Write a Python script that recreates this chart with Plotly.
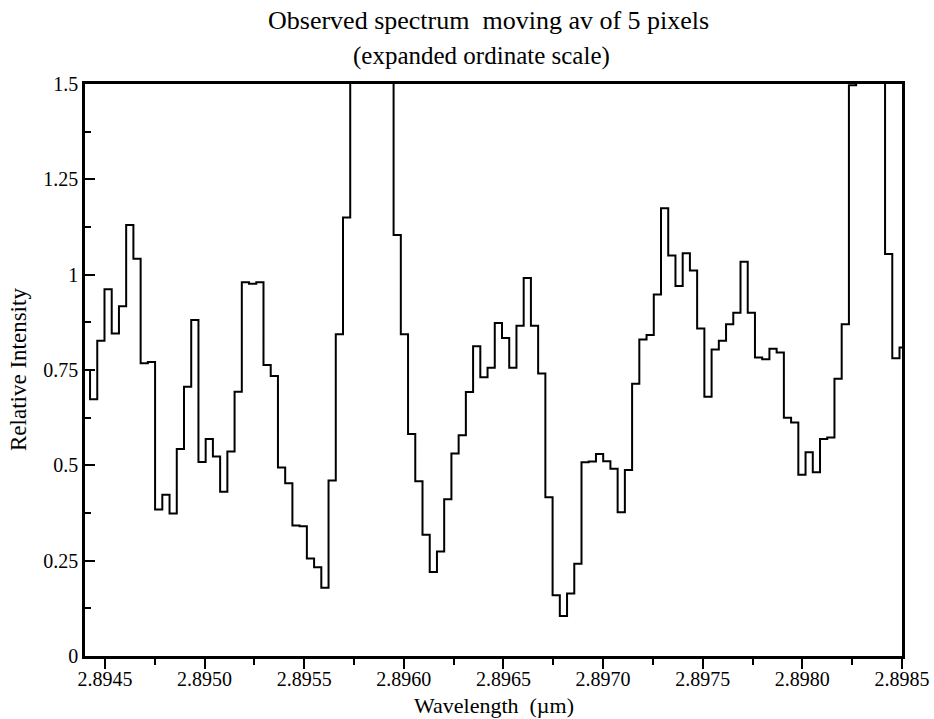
import plotly.graph_objects as go

# Spectrum: relative intensity per detector pixel (5-pixel moving average)
# values above 1.5 are off the expanded ordinate scale (clipped in the plot)
intensity = [
    0.750, 0.673, 0.827, 0.962, 0.846, 0.917, 1.130, 1.042, 0.768, 0.771,
    0.384, 0.423, 0.374, 0.543, 0.706, 0.881, 0.509, 0.569, 0.523, 0.431,
    0.536, 0.693, 0.980, 0.976, 0.980, 0.763, 0.734, 0.494, 0.453, 0.342,
    0.340, 0.256, 0.233, 0.179, 0.460, 0.844, 1.150, 1.95, 2.70, 3.20,
    2.90, 2.30, 1.70, 1.104, 0.844, 0.582, 0.458, 0.318, 0.220, 0.274,
    0.411, 0.531, 0.579, 0.692, 0.812, 0.731, 0.756, 0.873, 0.834, 0.756,
    0.866, 0.991, 0.866, 0.741, 0.416, 0.159, 0.105, 0.164, 0.242, 0.508,
    0.510, 0.530, 0.511, 0.491, 0.377, 0.488, 0.714, 0.830, 0.842, 0.948,
    1.174, 1.050, 0.970, 1.056, 1.011, 0.859, 0.680, 0.804, 0.827, 0.870,
    0.900, 1.034, 0.900, 0.783, 0.778, 0.806, 0.796, 0.625, 0.612, 0.475,
    0.534, 0.482, 0.569, 0.573, 0.727, 0.870, 1.497, 2.10, 2.80, 2.60,
    1.80, 1.054, 0.781, 0.809,
]

# pixel grid (wavelength of the first pixel's left edge, dispersion per pixel)
wl_first_edge = 2.894389   # µm
wl_per_pixel = 0.00003627  # µm

x_tick_vals = [2.8945, 2.8950, 2.8955, 2.8960, 2.8965, 2.8970, 2.8975, 2.8980, 2.8985]
x_tick_text = ["2.8945", "2.8950", "2.8955", "2.8960", "2.8965", "2.8970", "2.8975", "2.8980", "2.8985"]
x_minor_vals = [2.89475, 2.89525, 2.89575, 2.89625, 2.89675, 2.89725, 2.89775, 2.89825]
y_tick_vals = [0, 0.25, 0.5, 0.75, 1.0, 1.25, 1.5]
y_tick_text = ["0", "0.25", "0.5", "0.75", "1", "1.25", "1.5"]
y_minor_vals = [0.125, 0.375, 0.625, 0.875, 1.125, 1.375]

title_text = "Observed spectrum  moving av of 5 pixels"
subtitle_text = "(expanded ordinate scale)"
x_title = "Wavelength  (µm)"
y_title = "Relative Intensity"

edges = [wl_first_edge + i * wl_per_pixel for i in range(len(intensity) + 1)]
yvals = intensity + [intensity[-1]]

FONT = "Liberation Serif, Times New Roman, serif"

fig = go.Figure()
fig.add_trace(go.Scatter(
    x=edges, y=yvals, mode="lines", line_shape="hv",
    line=dict(color="black", width=2), showlegend=False, hoverinfo="skip",
))

def ann(text, x, y, xshift, yshift, size, angle=0):
    return dict(text=text, x=x, y=y, xref="paper", yref="paper",
                xanchor="center", yanchor="middle", xshift=xshift, yshift=yshift,
                showarrow=False, textangle=angle,
                font=dict(family=FONT, size=size, color="black"))

fig.update_layout(
    width=934, height=719,
    margin=dict(l=85, r=32, t=84, b=63, autoexpand=False),
    paper_bgcolor="white", plot_bgcolor="white",
    font=dict(family=FONT, color="black", size=20),
    annotations=[
        ann(title_text, 0.5, 1, -5, 64, 26),
        ann(subtitle_text, 0.5, 1, -12, 28, 25),
        ann(x_title, 0.5, 0, 0, -49, 22),
        ann(y_title, 0, 0.5, -67, 0, 23, angle=-90),
    ],
)

fig.update_xaxes(
    range=[2.8944, 2.8985], showgrid=False, zeroline=False, automargin=False,
    showline=True, linecolor="black", linewidth=2.5, mirror=True,
    ticks="outside", ticklen=10, tickwidth=2, tickcolor="black",
    tickvals=x_tick_vals, ticktext=x_tick_text, ticklabelstandoff=-7,
    tickfont=dict(family=FONT, size=20, color="black"),
    minor=dict(tickvals=x_minor_vals, ticks="outside", ticklen=6, tickwidth=2, tickcolor="black"),
)
fig.update_yaxes(
    range=[0, 1.5], showgrid=False, zeroline=False, automargin=False,
    showline=True, linecolor="black", linewidth=2.5, mirror=True,
    ticks="inside", ticklen=10, tickwidth=2, tickcolor="black",
    tickvals=y_tick_vals, ticktext=y_tick_text,
    tickfont=dict(family=FONT, size=20, color="black"),
    minor=dict(tickvals=y_minor_vals, ticks="inside", ticklen=6, tickwidth=2, tickcolor="black"),
)

fig.write_html("out.html")
